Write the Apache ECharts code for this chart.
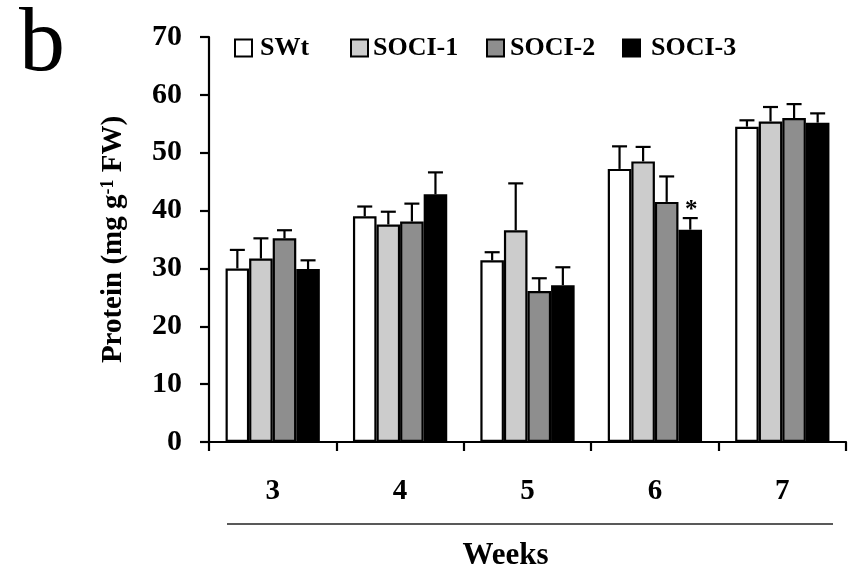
<!DOCTYPE html>
<html><head><meta charset="utf-8">
<script src="https://cdn.jsdelivr.net/npm/echarts@6/dist/echarts.min.js"></script>
<style>html,body{margin:0;padding:0;background:#fff}#c{width:849px;height:571px}</style>
</head><body><div id="c"></div>
<script>
var categories = ['3', '4', '5', '6', '7'];
var seriesNames = ['SWt', 'SOCI-1', 'SOCI-2', 'SOCI-3'];
var swt = [30.0, 39.0, 31.4, 47.2, 54.5];
var swtErr = [3.2, 1.7, 1.4, 3.9, 1.1];
var soci1 = [31.7, 37.6, 36.6, 48.5, 55.4];
var soci1Err = [3.5, 2.2, 8.1, 2.5, 2.5];
var soci2 = [35.2, 38.1, 26.1, 41.5, 56.0];
var soci2Err = [1.4, 3.1, 2.2, 4.4, 2.4];
var soci3 = [29.9, 42.8, 27.1, 36.7, 55.2];
var soci3Err = [1.5, 3.8, 3.1, 2.0, 1.6];
var soci3Sig = ['', '', '', '*', ''];
var yTicks = [0, 10, 20, 30, 40, 50, 60, 70];

var FONT = '"Liberation Serif", "Times New Roman", serif';
var fills = ['#ffffff', '#cccccc', '#8e8e8e', '#000000'];
var values = [swt, soci1, soci2, soci3];
var errs = [swtErr, soci1Err, soci2Err, soci3Err];
var sigs = [null, null, null, soci3Sig];
var GAP = 0.26;

var errData = [];
for (var s = 0; s < 4; s++) {
  for (var i = 0; i < categories.length; i++) {
    errData.push([i, s, values[s][i], errs[s][i], sigs[s] ? sigs[s][i] : '']);
  }
}

var series = seriesNames.map(function (n, s) {
  return {
    name: n, type: 'bar', data: values[s],
    barGap: '0%', barCategoryGap: (GAP * 100) + '%',
    itemStyle: { color: fills[s], borderColor: '#000', borderWidth: 2.2 },
    emphasis: { disabled: true }, animation: false
  };
});
series.push({
  type: 'custom', data: errData, animation: false, z: 5,
  encode: { x: 0, y: 2 },
  renderItem: function (params, api) {
    var cat = api.value(0), s = api.value(1), v = api.value(2), e = api.value(3);
    var sig = errData[params.dataIndex][4];
    var base = api.coord([cat, v]);
    var top = api.coord([cat, v + e]);
    var bandW = api.size([1, 0])[0];
    var barW = bandW * (1 - GAP) / 4;
    var x = base[0] + (s - 1.5) * barW;
    var st = { stroke: '#000', lineWidth: 2.2 };
    var children = [
      { type: 'line', shape: { x1: x, y1: base[1], x2: x, y2: top[1] }, style: st },
      { type: 'line', shape: { x1: x - 7.5, y1: top[1], x2: x + 7.5, y2: top[1] }, style: st }
    ];
    if (sig) {
      children.push({ type: 'text', style: { text: sig, x: x + 1, y: top[1] + 5, align: 'center', verticalAlign: 'bottom',
        font: 'bold 25px ' + FONT, fill: '#000' } });
    }
    return { type: 'group', children: children };
  }
});

function legendAt(name, left, gap) {
  return {
    data: [name], left: left, top: 35, itemWidth: 17, itemHeight: 17, itemGap: 0,
    icon: 'rect', selectedMode: false, padding: 0,
    textStyle: { fontFamily: FONT, fontWeight: 'bold', fontSize: 26, color: '#000', padding: [0, 0, 0, gap] }
  };
}

var chart = echarts.init(document.getElementById('c'), null, { renderer: 'canvas' });
chart.setOption({
  backgroundColor: '#fff',
  animation: false,
  title: { text: 'b', left: 19, top: 0, padding: 0, textStyle: { fontFamily: FONT, fontWeight: 'normal', fontSize: 92, color: '#000' } },
  legend: [legendAt('SWt', 234, 3), legendAt('SOCI-1', 350, 0), legendAt('SOCI-2', 486, 1), legendAt('SOCI-3', 622, 6)],
  grid: { left: 209, right: 3, top: 37, bottom: 129, outerBoundsMode: 'none', containLabel: false },
  xAxis: {
    type: 'category', data: categories,
    name: 'Weeks', nameLocation: 'middle', nameGap: 98,
    nameTextStyle: { fontFamily: FONT, fontWeight: 'bold', fontSize: 31, color: '#000', padding: [0, 44, 0, 0] },
    axisLine: { lineStyle: { color: '#000', width: 2.2 } },
    axisTick: { show: true, length: 9, lineStyle: { color: '#000', width: 2.2 }, alignWithLabel: false },
    axisLabel: { fontFamily: FONT, fontWeight: 'bold', fontSize: 29, color: '#000', margin: 35 }
  },
  yAxis: {
    type: 'value', min: 0, max: 70, interval: 10,
    name: '{a|Protein (mg g}{s|-1}{a| FW)}', nameLocation: 'middle', nameGap: 80, nameRotate: 90,
    nameTextStyle: { rich: {
      a: { fontFamily: FONT, fontWeight: 'bold', fontSize: 29, color: '#000' },
      s: { fontFamily: FONT, fontWeight: 'bold', fontSize: 18, color: '#000', verticalAlign: 'top', padding: [0, 0, 12, 0] }
    } },
    axisLine: { show: true, lineStyle: { color: '#000', width: 2.2 } },
    axisTick: { show: true, length: 9, lineStyle: { color: '#000', width: 2.2 } },
    splitLine: { show: false },
    axisLabel: { fontFamily: FONT, fontWeight: 'bold', fontSize: 30, color: '#000', margin: 27,
      formatter: function (v) { return yTicks.indexOf(v) >= 0 ? String(v) : ''; } }
  },
  graphic: [
    { type: 'line', shape: { x1: 227, y1: 524, x2: 833, y2: 524 }, style: { stroke: '#222', lineWidth: 1.5 } }
  ],
  series: series
});
</script></body></html>
